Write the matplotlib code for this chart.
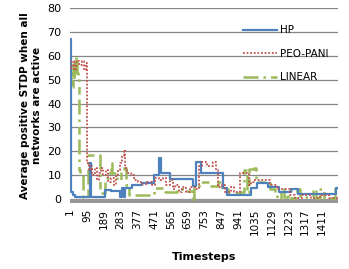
import numpy as np
import matplotlib
matplotlib.use('Agg')
import matplotlib.pyplot as plt

# breakpoints (timestep, value), held until the next breakpoint
hp_t = [1, 4, 15, 30, 110, 117, 196, 230, 260, 280, 290, 300, 308, 347, 403, 470, 500, 512,
        560, 690, 705, 735, 855, 880, 1015, 1045, 1110, 1170, 1240, 1276, 1488, 1500]
hp_v = [67, 3, 1.5, 1, 15, 0.8, 3.8, 3.2, 3.5, 0.8, 4.5, 1, 4.6, 6, 6.7, 10, 17, 11,
        8.5, 5.5, 15.5, 11, 4.6, 1.7, 4.6, 6.7, 5, 3, 4, 2.1, 4.6, 4.6]

peo_t = [1, 10, 25, 35, 50, 65, 80, 90, 97, 105, 115, 125, 140, 150, 160, 175, 185, 200,
         215, 230, 245, 260, 270, 280, 290, 300, 310, 320, 340, 360, 380, 400, 430, 460,
         475, 500, 520, 540, 560, 575, 590, 610, 630, 650, 670, 700, 720, 740, 770, 800,
         820, 830, 850, 870, 900, 920, 950, 1005, 1015, 1030, 1120, 1160, 1230, 1260,
         1300, 1350, 1400, 1450, 1500]
peo_v = [55, 58, 54, 58, 56, 58, 54, 57, 15, 12, 14, 10, 13, 8, 11, 13, 10, 12,
         7, 9, 6, 10, 12, 15, 18, 20.5, 13, 11, 10, 8, 7, 6.5, 7, 6,
         9, 8, 9, 6, 8, 4, 6, 3, 5, 3, 5, 4, 14, 15.5, 14, 15.5,
         12, 5, 6, 3, 5, 3, 11, 6, 7, 8, 6, 4, 1.5, 0.5,
         1.5, 0.5, 1.5, 0.5, 1]

lin_t = [1, 5, 10, 15, 20, 25, 30, 35, 40, 45, 48, 57, 70, 100, 170, 196, 210, 230, 236,
         265, 285, 305, 315, 330, 470, 530, 600, 650, 688, 695, 720, 780, 830, 850, 884,
         950, 975, 990, 1005, 1030, 1040, 1120, 1150, 1160, 1180, 1200, 1220, 1240, 1270,
         1290, 1360, 1380, 1400, 1420, 1485, 1500]
lin_v = [48, 53, 47, 56, 50, 57, 52, 59.5, 53, 50, 12, 11, 1, 18.5, 2.5, 9, 11, 15, 11,
         8, 12, 13, 6, 1.7, 4.6, 3, 4, 3.5, 0, 5, 7, 5.5, 7, 4, 2.5,
         3, 12, 2.5, 12.5, 13, 7, 4, 3, 0, 4, 1, 3.5, 0.5, 4,
         1, 4, 0.5, 4, 0.5, 4.6, 4.6]

tick_labels = [1, 95, 189, 283, 377, 471, 565, 659, 753, 847, 941, 1035, 1129, 1223, 1317, 1411]

fig = plt.figure(figsize=(3.49, 2.69), dpi=100)
ax = fig.add_axes([0.2006, 0.245, 0.7674, 0.725])

ax.axhline(-0.65, color='#969696', lw=3.6, zorder=1)
ax.plot(hp_t, hp_v, drawstyle='steps-post', color='#4F81BD', lw=1.6, label='HP', zorder=3)
ax.plot(peo_t, peo_v, drawstyle='steps-post', color='#C0504D', lw=1.3, ls=(0, (1, 1)),
        label='PEO-PANI', zorder=4)
ax.plot(lin_t, lin_v, drawstyle='steps-post', color='#9BBB59', lw=1.8,
        ls=(0, (6, 2, 1, 2, 3, 2)), label='LINEAR', zorder=2)

ax.set_xlim(0, 1500)
ax.set_ylim(-1.7, 80)
ax.set_yticks(range(0, 81, 10))
ax.set_xticks(tick_labels)
ax.set_xticklabels([str(t) for t in tick_labels], rotation=90, fontsize=7.5)
ax.tick_params(axis='y', labelsize=8, length=0, pad=6)
ax.tick_params(axis='x', length=0, pad=4)
ax.grid(axis='y', color='#868686', lw=0.9)
ax.set_axisbelow(True)
for s in ax.spines.values():
    s.set_visible(False)

ax.set_xlabel('Timesteps', fontsize=8, fontweight='bold', labelpad=12)
ax.set_ylabel('Average positive STDP when all\nnetworks are active', fontsize=7.5,
              fontweight='bold', labelpad=4)

ax.legend(loc='upper left', bbox_to_anchor=(0.61, 0.96), frameon=False, fontsize=7.5,
          handlelength=3.3, labelspacing=1.3, handletextpad=0.3)

fig.savefig('out.png', dpi=100)
